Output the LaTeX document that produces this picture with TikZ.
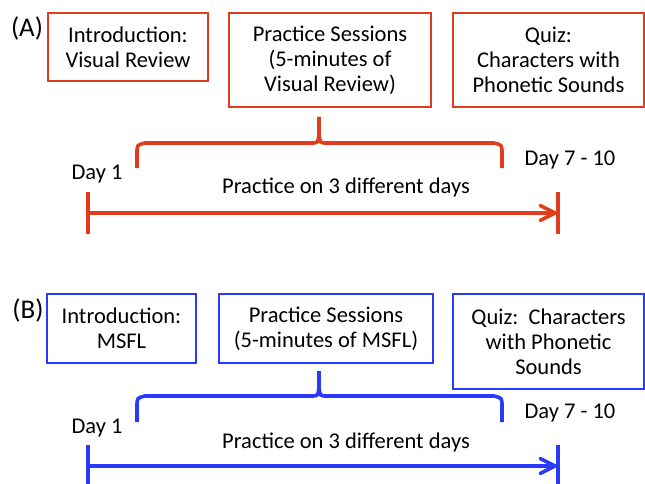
\documentclass[tikz,border=0pt]{standalone}
\usepackage{fontspec}
\setmainfont{Carlito}
\usetikzlibrary{arrows.meta}
\definecolor{ared}{RGB}{226,60,28}
\definecolor{bblue}{RGB}{40,58,250}
\begin{document}
\begin{tikzpicture}[x=1pt,y=-1pt,
  txt/.style={inner sep=0pt, align=center, font=\fontsize{22.5}{25}\selectfont},
  lbl/.style={inner sep=0pt, font=\fontsize{27}{30}\selectfont},
  boxst/.style={txt, draw=#1, line width=2pt},
  brc/.style={draw=#1, line width=3.6pt},
  tick/.style={draw=#1, line width=3.6pt},
  arr/.style={draw=#1, line width=3.6pt, line join=round, -{Straight Barb[length=15pt,width=15pt,round]}}]
\useasboundingbox (0,0) rectangle (645,484);
\fill[white] (0,0) rectangle (645,484);

% ---------- Panel A ----------
\node[lbl] (la) at (27,28) {(A)};
\node[boxst=ared, minimum width=160pt, minimum height=68pt] (a1) at (128,47) {Introduction:\\Visual Review};
\node[boxst=ared, minimum width=202pt, minimum height=94pt] (a2) at (330,60) {Practice Sessions\\(5-minutes of\\Visual Review)};
\node[boxst=ared, minimum width=191pt, minimum height=94pt] (a3) at (548.5,60) {Quiz:\\Characters with\\Phonetic Sounds};

\node[txt] (ad1) at (97,174) {Day 1};
\node[txt] (ad2) at (570,160) {Day 7 - 10};
\node[txt] (ap) at (346,188) {Practice on 3 different days};

\coordinate (abt) at (319,117);
\coordinate (abl) at (137,168);
\coordinate (abr) at (502,168);
\draw[brc=ared] (abl) -- (137,153) .. controls (137,145) .. (145,143) -- (311,143) .. controls (318,143) .. (319,134) -- (abt);
\draw[brc=ared] (abr) -- (502,153) .. controls (502,145) .. (494,143) -- (327,143) .. controls (320,143) .. (319,134);

\coordinate (at1a) at (88,192);
\coordinate (at1b) at (88,234);
\coordinate (at2a) at (558,192);
\coordinate (at2b) at (558,234);
\coordinate (aa1) at (88,213);
\coordinate (aa2) at (557,213);
\draw[tick=ared] (at1a) -- (at1b);
\draw[tick=ared] (at2a) -- (at2b);
\draw[arr=ared] (aa1) -- (aa2);

% ---------- Panel B ----------
\node[lbl] (lb) at (28,310) {(B)};
\node[boxst=bblue, minimum width=149pt, minimum height=69pt] (b1) at (121.5,328.5) {Introduction:\\MSFL};
\node[boxst=bblue, minimum width=214pt, minimum height=69pt] (b2) at (326,328.5) {Practice Sessions\\(5-minutes of MSFL)};
\node[boxst=bblue, minimum width=191pt, minimum height=95pt] (b3) at (548.5,341.5) {Quiz:~~Characters\\with Phonetic\\Sounds};

\node[txt] (bd1) at (97,428) {Day 1};
\node[txt] (bd2) at (570,413) {Day 7 - 10};
\node[txt] (bp) at (346,442) {Practice on 3 different days};

\coordinate (bbt) at (319,371);
\coordinate (bbl) at (137,422);
\coordinate (bbr) at (502,422);
\draw[brc=bblue] (bbl) -- (137,406) .. controls (137,398) .. (145,396) -- (311,396) .. controls (318,396) .. (319,387) -- (bbt);
\draw[brc=bblue] (bbr) -- (502,406) .. controls (502,398) .. (494,396) -- (327,396) .. controls (320,396) .. (319,387);

\coordinate (bt1a) at (88,445);
\coordinate (bt1b) at (88,486);
\coordinate (bt2a) at (558,445);
\coordinate (bt2b) at (558,486);
\coordinate (ba1) at (88,466);
\coordinate (ba2) at (557,466);
\draw[tick=bblue] (bt1a) -- (bt1b);
\draw[tick=bblue] (bt2a) -- (bt2b);
\draw[arr=bblue] (ba1) -- (ba2);
\end{tikzpicture}
\end{document}
